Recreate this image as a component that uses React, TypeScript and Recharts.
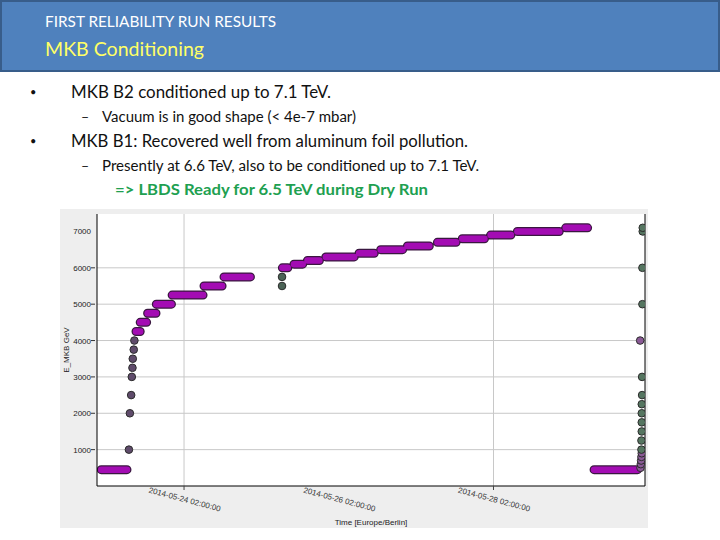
import React from 'react';
import { ComposedChart, Line, Scatter, XAxis, YAxis, CartesianGrid, ReferenceLine } from 'recharts';

// hours counted from 2014-05-24 00:00 (Europe/Berlin), energies in GeV
const plateauGeV = [450, 4250, 4500, 4750, 5000, 5250, 5500, 5750, 6000, 6100, 6200, 6300, 6400, 6500, 6600, 6700, 6800, 6900, 7000, 7100, 450];
const plateauStart = [-23.7, -12.9, -11.6, -9.3, -6.6, -1.7, 8.2, 14.4, 32.5, 36.1, 40.3, 46.0, 56.3, 63.0, 71.3, 80.6, 88.3, 97.1, 105.4, 120.4, 129.2];
const plateauEnd = [-15.7, -11.6, -9.6, -6.7, -1.9, 7.9, 13.8, 22.6, 34.2, 38.8, 44.0, 54.8, 61.0, 69.8, 78.1, 86.4, 95.2, 103.4, 118.4, 127.2, 142.7];

const rampHours = [-15.1, -14.8, -14.4, -14.2, -14.0, -13.9, -13.6, -13.4];
const rampGeV = [1000, 2000, 2500, 3000, 3250, 3500, 3750, 4000];

const midHours = [32.4, 32.4];
const midGeV = [5500, 5750];

const endLowHours = [143.6, 143.7, 143.8, 143.9, 144.0, 143.5];
const endLowGeV = [500, 600, 700, 800, 900, 4000];
const endHighHours = [143.9, 143.9, 144.0, 144.0, 144.0, 144.0, 144.1, 144.1, 144.2, 144.2, 144.3, 144.3];
const endHighGeV = [1000, 1250, 1500, 1750, 2000, 2250, 2500, 3000, 5000, 6000, 7000, 7100];

const tickHours = [2, 50, 98];
const tickLabels = ['2014-05-24 02:00:00', '2014-05-26 02:00:00', '2014-05-28 02:00:00'];
const markedHours = [2, 98];
const yTicks = [1000, 2000, 3000, 4000, 5000, 6000, 7000];
const yGrid = [1000, 2000, 3000, 4000, 5000, 6000];

const plateauData = plateauGeV.flatMap((v, i) => [
  { x: plateauStart[i], y: v },
  { x: plateauEnd[i], y: v },
  { x: plateauEnd[i], y: null },
]);

const pts = (hs: number[], vs: number[]) => hs.map((h, i) => ({ x: h, y: vs[i] }));

const marker = (fill: string) => (p: any) => (
  <circle cx={p.cx} cy={p.cy} r={3.8} fill={fill} stroke="#2b2b2b" strokeWidth={1} />
);

const chartFont = '"Liberation Sans", Arial, sans-serif';

const XTick = (p: any) => {
  const i = tickHours.indexOf(p.payload.value);
  const ty = p.y + 14;
  return (
    <g>
      {markedHours.includes(p.payload.value) && (
        <line x1={p.x} x2={p.x} y1={p.y - 2} y2={p.y + 2} stroke="#444" />
      )}
      <text x={p.x} y={ty} textAnchor="middle" fontSize={8} fill="#333" fontFamily={chartFont}
        transform={`rotate(15 ${p.x} ${ty})`}>
        {tickLabels[i]}
      </text>
    </g>
  );
};

const YTick = (p: any) => (
  <g>
    {p.payload.value < 7000 && <line x1={p.x - 4} x2={p.x} y1={p.y} y2={p.y} stroke="#333" />}
    <text x={p.x - 4} y={p.y + 3} textAnchor="end" fontSize={8} fill="#222" fontFamily={chartFont}>
      {p.payload.value}
    </text>
  </g>
);

const slideFont = 'Lato, "Open Sans", sans-serif';

export default function App() {
  return (
    <div style={{ position: 'absolute', left: 0, top: 0, width: 720, height: 540, background: '#fff' }}>
      <svg width={720} height={205} style={{ position: 'absolute', left: 0, top: 0 }}>
        <rect x={1} y={1} width={718} height={70} fill="#4f81bd" stroke="#385d8a" strokeWidth={2} />
        <text x={45} y={27} fontSize={15} fill="#fff" fontFamily={slideFont} textLength={231} lengthAdjust="spacingAndGlyphs">
          FIRST RELIABILITY RUN RESULTS
        </text>
        <text x={45} y={56} fontSize={20} fill="#ffff66" fontFamily={slideFont} textLength={159} lengthAdjust="spacingAndGlyphs">
          MKB Conditioning
        </text>
        <text x={30} y={96} fontSize={11} fill="#111" fontFamily={slideFont}>•</text>
        <text x={71} y={98} fontSize={18} fill="#111" fontFamily={slideFont} textLength={260} lengthAdjust="spacingAndGlyphs">
          MKB B2 conditioned up to 7.1 TeV.
        </text>
        <text x={81} y={122} fontSize={14} fill="#111" fontFamily={slideFont}>–</text>
        <text x={102} y={122} fontSize={14.5} fill="#111" fontFamily={slideFont} textLength={254} lengthAdjust="spacingAndGlyphs">
          Vacuum is in good shape (&lt; 4e-7 mbar)
        </text>
        <text x={30} y={145} fontSize={11} fill="#111" fontFamily={slideFont}>•</text>
        <text x={71} y={147} fontSize={18} fill="#111" fontFamily={slideFont} textLength={397} lengthAdjust="spacingAndGlyphs">
          MKB B1: Recovered well from aluminum foil pollution.
        </text>
        <text x={81} y={171} fontSize={14} fill="#111" fontFamily={slideFont}>–</text>
        <text x={102} y={171} fontSize={14.5} fill="#111" fontFamily={slideFont} textLength={377} lengthAdjust="spacingAndGlyphs">
          Presently at 6.6 TeV, also to be conditioned up to 7.1 TeV.
        </text>
        <text x={115} y={195} fontSize={15} fontWeight="bold" fill="#20a050" fontFamily={slideFont} textLength={313} lengthAdjust="spacingAndGlyphs">
          =&gt; LBDS Ready for 6.5 TeV during Dry Run
        </text>
      </svg>
      <div style={{ position: 'absolute', left: 60, top: 209, width: 588, height: 319, background: '#eeeeee' }}>
        <ComposedChart width={588} height={319} margin={{ top: 5, right: 3, bottom: 0, left: 0 }}>
          <CartesianGrid fill="#ffffff" horizontal={false} vertical={false} />
          <XAxis type="number" dataKey="x" domain={[-25, 145]} ticks={tickHours} allowDataOverflow
            interval={0} height={42} tickSize={0} tickLine={false} axisLine={{ stroke: '#000' }} tick={<XTick />}
            label={{
              content: (lp: any) => (
                <text x={lp.viewBox.x + lp.viewBox.width / 2} y={lp.viewBox.y + lp.viewBox.height - 3}
                  textAnchor="middle" fontSize={8} fill="#222" fontFamily={chartFont}>
                  Time [Europe/Berlin]
                </text>
              ),
            }}
          />
          <YAxis type="number" dataKey="y" domain={[0, 7480]} ticks={yTicks} allowDataOverflow interval={0}
            width={37} tickSize={0} tickLine={false} axisLine={{ stroke: '#000' }} tick={<YTick />}
            label={{
              content: (lp: any) => {
                const cx = lp.viewBox.x + 9;
                const cy = lp.viewBox.y + lp.viewBox.height / 2;
                return (
                  <text x={cx} y={cy} textAnchor="middle" fontSize={8} fill="#222" fontFamily={chartFont}
                    transform={`rotate(-90 ${cx} ${cy})`}>
                    E_MKB GeV
                  </text>
                );
              },
            }}
          />
          {yGrid.map(v => <ReferenceLine key={'h' + v} y={v} stroke="#c8c8c8" />)}
          {markedHours.map(h => <ReferenceLine key={'v' + h} x={h} stroke="#c8c8c8" />)}
          <ReferenceLine x={145} stroke="#000" />
          <Line data={plateauData} dataKey="y" type="linear" stroke="#3a1740" strokeWidth={9}
            strokeLinecap="round" dot={false} activeDot={false} connectNulls={false} isAnimationActive={false} />
          <Line data={plateauData} dataKey="y" type="linear" stroke="#a30cb3" strokeWidth={6.5}
            strokeLinecap="round" dot={false} activeDot={false} connectNulls={false} isAnimationActive={false} />
          <Scatter data={pts(rampHours, rampGeV)} dataKey="y" shape={marker('#5f4b6b')} isAnimationActive={false} />
          <Scatter data={pts(midHours, midGeV)} dataKey="y" shape={marker('#4b6356')} isAnimationActive={false} />
          <Scatter data={pts(endLowHours, endLowGeV)} dataKey="y" shape={marker('#8a5a96')} isAnimationActive={false} />
          <Scatter data={pts(endHighHours, endHighGeV)} dataKey="y" shape={marker('#557560')} isAnimationActive={false} />
        </ComposedChart>
      </div>
    </div>
  );
}
